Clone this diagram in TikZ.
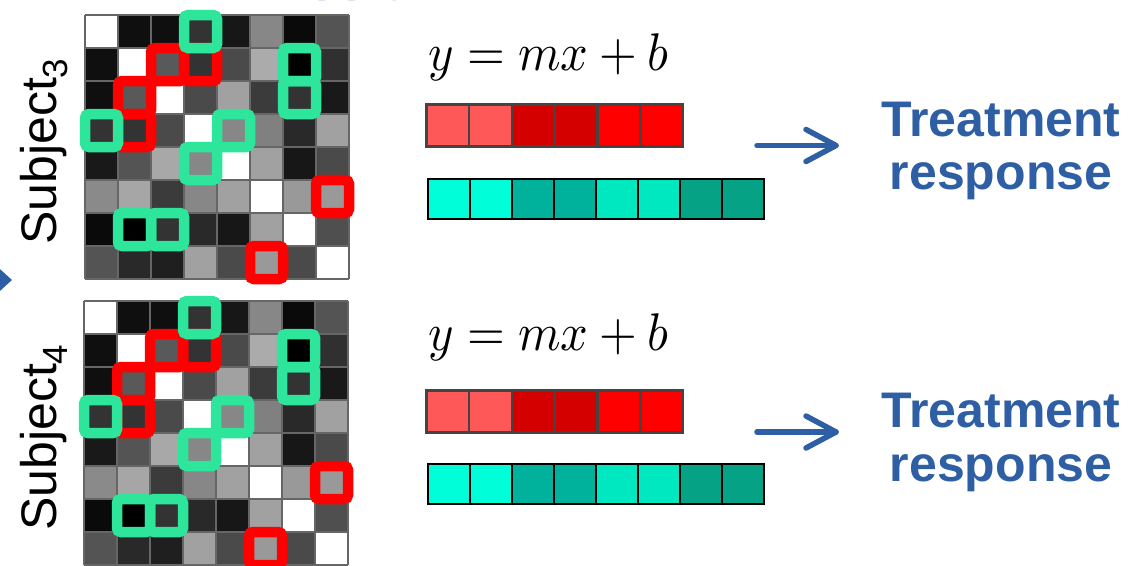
\documentclass[tikz,border=0pt]{standalone}
\usepackage{fontspec}
\newfontfamily\arialf{Liberation Sans}
\usetikzlibrary{arrows.meta}

\definecolor{hlgreen}{RGB}{45,229,155}
\definecolor{hlred}{RGB}{255,0,0}
\definecolor{ttblue}{RGB}{46,94,163}
\definecolor{gridgray}{RGB}{102,102,102}
\definecolor{barred}{RGB}{68,68,68}
\definecolor{rA}{RGB}{255,88,88}
\definecolor{rB}{RGB}{212,0,0}
\definecolor{rC}{RGB}{255,0,0}
\definecolor{tA}{RGB}{0,255,216}
\definecolor{tB}{RGB}{0,178,156}
\definecolor{tC}{RGB}{0,232,192}
\definecolor{tD}{RGB}{6,162,134}

\tikzset{
  gridline/.style={draw=gridgray, line width=2},
  redhl/.style={draw=hlred, line width=10.5, rounded corners=4},
  greenhl/.style={draw=hlgreen, line width=10.5, rounded corners=4},
  subjlabel/.style={inner sep=0, anchor=base west, rotate=90,
    font=\arialf\fontsize{50}{60}\selectfont},
  eqn/.style={inner sep=0, anchor=base west},
  redcell/.style={draw=barred, line width=2.5, inner sep=0, anchor=north west,
    minimum width=42.83pt, minimum height=42pt},
  tealcell/.style={draw=black, line width=1.5, inner sep=0, anchor=north west,
    minimum width=42pt, minimum height=40pt},
  resptext/.style={inner sep=0, anchor=base, text=ttblue,
    font=\arialf\bfseries\fontsize{50}{54}\selectfont},
  respline/.style={draw=ttblue, line width=5.5, line cap=round, line join=round},
  % 8x8 connectivity matrix with highlighted entries
  connmat/.pic={
    \foreach \row [count=\r from 0] in {
      {100,6,6,20,9,53,4,33},
      {6,100,35,20,29,67,0,19},
      {6,35,100,29,63,23,20,10},
      {20,20,29,100,53,50,16,63},
      {10,33,66,53,100,63,9,29},
      {54,65,23,53,63,100,60,60},
      {4,0,20,16,9,63,100,31},
      {33,16,12,63,29,60,29,100}}{
      \foreach \v [count=\c from 0] in \row {
        \fill[white!\v!black] (\c*33,\r*33) rectangle ++(33,33);
      }
    }
    \foreach \i in {0,...,8}{
      \draw[gridline] (\i*33,0) -- (\i*33,264);
      \draw[gridline] (0,\i*33) -- (264,\i*33);
    }
    \foreach \c/\r in {2/1,3/1,1/2,1/3,7/5,5/7}
      \draw[redhl] (\c*33,\r*33) rectangle ++(33,33);
    \foreach \c/\r in {3/0,6/1,6/2,0/3,4/3,3/4,1/6,2/6}
      \draw[greenhl] (\c*33,\r*33) rectangle ++(33,33);
  }
}

\begin{document}
\begin{tikzpicture}[x=1pt,y=-1pt]
\useasboundingbox (0,0) rectangle (1145,565);
\clip (0,0) rectangle (1145,565);
\fill[white] (0,0) rectangle (1145,565);

% heading running above the panel (only its descenders reach down here)
\node[inner sep=0, anchor=base west, text=ttblue,
  font=\arialf\bfseries\fontsize{49}{49}\selectfont] (heading) at (288,-9.5) {apply};

% incoming arrow from the left
\coordinate (inA) at (-40,280);
\coordinate (inB) at (12,280);
\draw[ttblue, line width=5, -{Triangle[length=12pt,width=21pt]}] (inA) -- (inB);

% ---------- subject 3 ----------
\pic at (85,15) {connmat};
\node[subjlabel] (subj3) at (56,245) {Subject\raisebox{-11pt}{\fontsize{35}{35}\selectfont 3}};
\node[eqn] (eq3) at (428,70) {\scalebox{4.85}[5.3]{$y = mx + b$}};
\foreach \col [count=\i from 0] in {rA,rA,rB,rB,rC,rC}
  \node[redcell, fill=\col] (r3-\i) at (425+\i*42.83,103) {};
\foreach \col [count=\i from 0] in {tA,tA,tB,tB,tC,tC,tD,tD}
  \node[tealcell, fill=\col] (t3-\i) at (427+\i*42,178) {};
\coordinate (a3s) at (757,145.5);
\coordinate (a3e) at (836,145.5);
\draw[respline] (a3s) -- (a3e);
\draw[respline] ([shift={(-30,-16)}]a3e) -- (a3e) -- ([shift={(-30,16)}]a3e);
\node[resptext] (tr3a) at (1001,136) {Treatment};
\node[resptext] (tr3b) at (1001,189) {response};

% ---------- subject 4 ----------
\pic at (84,301) {connmat};
\node[subjlabel] (subj4) at (56,531) {Subject\raisebox{-11pt}{\fontsize{35}{35}\selectfont 4}};
\node[eqn] (eq4) at (428,350) {\scalebox{4.85}[5.3]{$y = mx + b$}};
\foreach \col [count=\i from 0] in {rA,rA,rB,rB,rC,rC}
  \node[redcell, fill=\col] (r4-\i) at (425+\i*42.83,389) {};
\foreach \col [count=\i from 0] in {tA,tA,tB,tB,tC,tC,tD,tD}
  \node[tealcell, fill=\col] (t4-\i) at (427+\i*42,463) {};
\coordinate (a4s) at (757,432);
\coordinate (a4e) at (836,432);
\draw[respline] (a4s) -- (a4e);
\draw[respline] ([shift={(-30,-16)}]a4e) -- (a4e) -- ([shift={(-30,16)}]a4e);
\node[resptext] (tr4a) at (1001,427) {Treatment};
\node[resptext] (tr4b) at (1001,481) {response};
\end{tikzpicture}
\end{document}
